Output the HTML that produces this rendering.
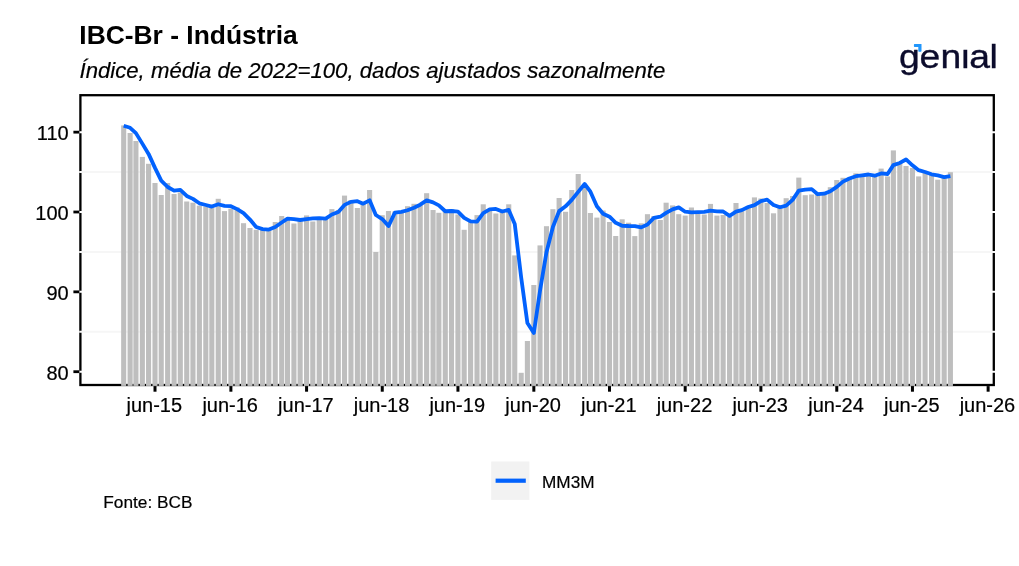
<!DOCTYPE html>
<html lang="pt-BR"><head><meta charset="utf-8"><title>IBC-Br - Indústria</title>
<style>html,body{margin:0;padding:0;background:#fff;overflow:hidden}body{width:1019px;height:566px;position:relative}</style></head>
<body>
<svg width="1019" height="566" viewBox="0 0 1019 566" style="position:absolute;left:0;top:0">
<rect x="0" y="0" width="1019" height="566" fill="#ffffff"/>
<rect x="80.4" y="95.2" width="913.4" height="289.8" fill="none" stroke="#000" stroke-width="2.3"/>
<line x1="79.2" x2="995" y1="371.70" y2="371.70" stroke="#ffffff" stroke-width="2"/>
<line x1="79.2" x2="995" y1="331.77" y2="331.77" stroke="#f6f6f6" stroke-width="2"/>
<line x1="79.2" x2="995" y1="291.85" y2="291.85" stroke="#ffffff" stroke-width="2"/>
<line x1="79.2" x2="995" y1="251.93" y2="251.93" stroke="#f6f6f6" stroke-width="2"/>
<line x1="79.2" x2="995" y1="212.00" y2="212.00" stroke="#ffffff" stroke-width="2"/>
<line x1="79.2" x2="995" y1="172.07" y2="172.07" stroke="#f6f6f6" stroke-width="2"/>
<line x1="79.2" x2="995" y1="132.15" y2="132.15" stroke="#ffffff" stroke-width="2"/>
<g fill="#bebebe">
<rect x="121.14" y="125.4" width="5.1" height="260.5"/>
<rect x="127.57" y="133.0" width="5.1" height="252.9"/>
<rect x="133.37" y="141.0" width="5.1" height="244.9"/>
<rect x="139.80" y="156.9" width="5.1" height="229.0"/>
<rect x="146.02" y="163.8" width="5.1" height="222.1"/>
<rect x="152.45" y="183.0" width="5.1" height="202.9"/>
<rect x="158.67" y="195.0" width="5.1" height="190.9"/>
<rect x="165.10" y="183.0" width="5.1" height="202.9"/>
<rect x="171.53" y="194.0" width="5.1" height="191.9"/>
<rect x="177.75" y="192.4" width="5.1" height="193.5"/>
<rect x="184.17" y="201.5" width="5.1" height="184.4"/>
<rect x="190.40" y="202.7" width="5.1" height="183.2"/>
<rect x="196.82" y="205.7" width="5.1" height="180.2"/>
<rect x="203.25" y="206.5" width="5.1" height="179.4"/>
<rect x="209.26" y="207.5" width="5.1" height="178.4"/>
<rect x="215.69" y="198.8" width="5.1" height="187.1"/>
<rect x="221.91" y="211.1" width="5.1" height="174.8"/>
<rect x="228.34" y="208.7" width="5.1" height="177.2"/>
<rect x="234.56" y="207.5" width="5.1" height="178.4"/>
<rect x="240.99" y="223.2" width="5.1" height="162.7"/>
<rect x="247.42" y="228.0" width="5.1" height="157.9"/>
<rect x="253.64" y="229.8" width="5.1" height="156.1"/>
<rect x="260.06" y="229.5" width="5.1" height="156.4"/>
<rect x="266.29" y="229.5" width="5.1" height="156.4"/>
<rect x="272.71" y="222.0" width="5.1" height="163.9"/>
<rect x="279.14" y="216.0" width="5.1" height="169.9"/>
<rect x="284.95" y="218.0" width="5.1" height="167.9"/>
<rect x="291.37" y="223.5" width="5.1" height="162.4"/>
<rect x="297.59" y="218.5" width="5.1" height="167.4"/>
<rect x="304.02" y="215.4" width="5.1" height="170.5"/>
<rect x="310.24" y="221.5" width="5.1" height="164.4"/>
<rect x="316.67" y="217.5" width="5.1" height="168.4"/>
<rect x="323.10" y="217.0" width="5.1" height="168.9"/>
<rect x="329.32" y="209.1" width="5.1" height="176.8"/>
<rect x="335.75" y="210.0" width="5.1" height="175.9"/>
<rect x="341.97" y="195.6" width="5.1" height="190.3"/>
<rect x="348.40" y="200.0" width="5.1" height="185.9"/>
<rect x="354.82" y="208.0" width="5.1" height="177.9"/>
<rect x="360.63" y="203.0" width="5.1" height="182.9"/>
<rect x="367.06" y="190.0" width="5.1" height="195.9"/>
<rect x="373.28" y="252.0" width="5.1" height="133.9"/>
<rect x="379.71" y="215.2" width="5.1" height="170.7"/>
<rect x="385.93" y="211.0" width="5.1" height="174.9"/>
<rect x="392.35" y="211.5" width="5.1" height="174.4"/>
<rect x="398.78" y="213.0" width="5.1" height="172.9"/>
<rect x="405.00" y="206.2" width="5.1" height="179.7"/>
<rect x="411.43" y="203.8" width="5.1" height="182.1"/>
<rect x="417.65" y="204.0" width="5.1" height="181.9"/>
<rect x="424.08" y="193.2" width="5.1" height="192.7"/>
<rect x="430.51" y="210.0" width="5.1" height="175.9"/>
<rect x="436.31" y="212.8" width="5.1" height="173.1"/>
<rect x="442.74" y="211.0" width="5.1" height="174.9"/>
<rect x="448.96" y="209.2" width="5.1" height="176.7"/>
<rect x="455.39" y="214.5" width="5.1" height="171.4"/>
<rect x="461.61" y="229.8" width="5.1" height="156.1"/>
<rect x="468.04" y="220.0" width="5.1" height="165.9"/>
<rect x="474.46" y="215.1" width="5.1" height="170.8"/>
<rect x="480.69" y="204.3" width="5.1" height="181.6"/>
<rect x="487.11" y="209.0" width="5.1" height="176.9"/>
<rect x="493.33" y="213.5" width="5.1" height="172.4"/>
<rect x="499.76" y="212.0" width="5.1" height="173.9"/>
<rect x="506.19" y="204.3" width="5.1" height="181.6"/>
<rect x="512.20" y="255.4" width="5.1" height="130.5"/>
<rect x="518.63" y="372.8" width="5.1" height="13.1"/>
<rect x="524.85" y="341.0" width="5.1" height="44.9"/>
<rect x="531.28" y="285.0" width="5.1" height="100.9"/>
<rect x="537.50" y="245.4" width="5.1" height="140.5"/>
<rect x="543.93" y="226.2" width="5.1" height="159.7"/>
<rect x="550.35" y="209.2" width="5.1" height="176.7"/>
<rect x="556.58" y="198.0" width="5.1" height="187.9"/>
<rect x="563.00" y="211.8" width="5.1" height="174.1"/>
<rect x="569.22" y="190.0" width="5.1" height="195.9"/>
<rect x="575.65" y="174.0" width="5.1" height="211.9"/>
<rect x="582.08" y="188.0" width="5.1" height="197.9"/>
<rect x="587.88" y="213.0" width="5.1" height="172.9"/>
<rect x="594.31" y="217.6" width="5.1" height="168.3"/>
<rect x="600.53" y="210.5" width="5.1" height="175.4"/>
<rect x="606.96" y="222.0" width="5.1" height="163.9"/>
<rect x="613.18" y="236.0" width="5.1" height="149.9"/>
<rect x="619.61" y="219.3" width="5.1" height="166.6"/>
<rect x="626.04" y="222.7" width="5.1" height="163.2"/>
<rect x="632.26" y="236.1" width="5.1" height="149.8"/>
<rect x="638.69" y="223.3" width="5.1" height="162.6"/>
<rect x="644.91" y="214.2" width="5.1" height="171.7"/>
<rect x="651.33" y="216.0" width="5.1" height="169.9"/>
<rect x="657.76" y="220.0" width="5.1" height="165.9"/>
<rect x="663.57" y="202.7" width="5.1" height="183.2"/>
<rect x="670.00" y="205.4" width="5.1" height="180.5"/>
<rect x="676.22" y="214.2" width="5.1" height="171.7"/>
<rect x="682.64" y="215.6" width="5.1" height="170.3"/>
<rect x="688.86" y="207.5" width="5.1" height="178.4"/>
<rect x="695.29" y="213.5" width="5.1" height="172.4"/>
<rect x="701.72" y="214.5" width="5.1" height="171.4"/>
<rect x="707.94" y="203.9" width="5.1" height="182.0"/>
<rect x="714.37" y="215.6" width="5.1" height="170.3"/>
<rect x="720.59" y="215.0" width="5.1" height="170.9"/>
<rect x="727.02" y="217.0" width="5.1" height="168.9"/>
<rect x="733.44" y="203.0" width="5.1" height="182.9"/>
<rect x="739.25" y="210.5" width="5.1" height="175.4"/>
<rect x="745.68" y="207.5" width="5.1" height="178.4"/>
<rect x="751.90" y="197.4" width="5.1" height="188.5"/>
<rect x="758.33" y="198.5" width="5.1" height="187.4"/>
<rect x="764.55" y="203.0" width="5.1" height="182.9"/>
<rect x="770.98" y="213.3" width="5.1" height="172.6"/>
<rect x="777.40" y="205.5" width="5.1" height="180.4"/>
<rect x="783.62" y="198.2" width="5.1" height="187.7"/>
<rect x="790.05" y="196.0" width="5.1" height="189.9"/>
<rect x="796.27" y="177.6" width="5.1" height="208.3"/>
<rect x="802.70" y="195.2" width="5.1" height="190.7"/>
<rect x="809.13" y="194.5" width="5.1" height="191.4"/>
<rect x="815.14" y="193.0" width="5.1" height="192.9"/>
<rect x="821.57" y="193.5" width="5.1" height="192.4"/>
<rect x="827.79" y="187.2" width="5.1" height="198.7"/>
<rect x="834.22" y="180.0" width="5.1" height="205.9"/>
<rect x="840.44" y="177.8" width="5.1" height="208.1"/>
<rect x="846.87" y="177.5" width="5.1" height="208.4"/>
<rect x="853.29" y="173.3" width="5.1" height="212.6"/>
<rect x="859.51" y="175.4" width="5.1" height="210.5"/>
<rect x="865.94" y="174.8" width="5.1" height="211.1"/>
<rect x="872.16" y="177.0" width="5.1" height="208.9"/>
<rect x="878.59" y="168.6" width="5.1" height="217.3"/>
<rect x="885.02" y="176.4" width="5.1" height="209.5"/>
<rect x="890.82" y="150.4" width="5.1" height="235.5"/>
<rect x="897.25" y="162.0" width="5.1" height="223.9"/>
<rect x="903.47" y="166.0" width="5.1" height="219.9"/>
<rect x="909.90" y="168.0" width="5.1" height="217.9"/>
<rect x="916.12" y="176.4" width="5.1" height="209.5"/>
<rect x="922.55" y="171.5" width="5.1" height="214.4"/>
<rect x="928.98" y="175.0" width="5.1" height="210.9"/>
<rect x="935.20" y="179.7" width="5.1" height="206.2"/>
<rect x="941.62" y="176.5" width="5.1" height="209.4"/>
<rect x="947.84" y="172.2" width="5.1" height="213.7"/>
</g>
<polyline points="123.69,125.80 130.12,127.80 135.92,133.13 142.35,143.63 148.57,153.90 155.00,167.90 161.22,180.60 167.65,187.00 174.08,190.67 180.30,189.80 186.72,195.97 192.95,198.87 199.37,203.30 205.80,204.97 211.81,206.57 218.24,204.27 224.46,205.80 230.89,206.20 237.11,209.10 243.54,213.13 249.97,219.57 256.19,227.00 262.61,229.10 268.84,229.60 275.26,227.00 281.69,222.50 287.50,218.67 293.92,219.17 300.14,220.00 306.57,219.13 312.79,218.47 319.22,218.13 325.65,218.67 331.87,214.53 338.30,212.03 344.52,204.90 350.95,201.87 357.37,201.20 363.18,203.67 369.61,200.33 375.83,215.00 382.26,219.07 388.48,226.07 394.90,212.57 401.33,211.83 407.55,210.23 413.98,207.67 420.20,204.67 426.63,200.33 433.06,202.40 438.86,205.33 445.29,211.27 451.51,211.00 457.94,211.57 464.16,217.83 470.59,221.43 477.01,221.63 483.24,213.13 489.66,209.47 495.88,208.93 502.31,211.50 508.74,209.93 514.75,223.90 521.18,277.50 527.40,323.07 533.83,332.93 540.05,290.47 546.48,252.20 552.90,226.93 559.13,211.13 565.55,206.33 571.77,199.93 578.20,191.93 584.63,184.00 590.43,191.67 596.86,206.20 603.08,213.70 609.51,216.70 615.73,222.83 622.16,225.77 628.59,226.00 634.81,226.03 641.24,227.37 647.46,224.53 653.88,217.83 660.31,216.73 666.12,212.90 672.55,209.37 678.77,207.43 685.19,211.73 691.41,212.43 697.84,212.20 704.27,211.83 710.49,210.63 716.92,211.33 723.14,211.50 729.57,215.87 735.99,211.67 741.80,210.17 748.23,207.00 754.45,205.13 760.88,201.13 767.10,199.63 773.53,204.93 779.95,207.27 786.17,205.67 792.60,199.90 798.82,190.60 805.25,189.60 811.68,189.10 817.69,194.23 824.12,193.67 830.34,191.23 836.77,186.90 842.99,181.67 849.42,178.43 855.84,176.20 862.06,175.40 868.49,174.50 874.71,175.73 881.14,173.47 887.57,174.00 893.37,165.13 899.80,162.93 906.02,159.47 912.45,165.33 918.67,170.13 925.10,171.97 931.53,174.30 937.75,175.40 944.17,177.07 950.39,176.13" fill="none" stroke="#0262fd" stroke-width="3.8" stroke-linejoin="round" stroke-linecap="butt"/>
<g font-family="'Liberation Sans', Arial, sans-serif" font-size="20" fill="#000" stroke-width="0.2">
<line x1="73.4" x2="79.3" y1="371.70" y2="371.70" stroke="#000" stroke-width="2.8"/>
<text x="68.7" y="379.50" text-anchor="end" stroke="#000">80</text>
<line x1="73.4" x2="79.3" y1="291.85" y2="291.85" stroke="#000" stroke-width="2.8"/>
<text x="68.7" y="299.65" text-anchor="end" stroke="#000">90</text>
<line x1="73.4" x2="79.3" y1="212.00" y2="212.00" stroke="#000" stroke-width="2.8"/>
<text x="68.7" y="219.80" text-anchor="end" stroke="#000">100</text>
<line x1="73.4" x2="79.3" y1="132.15" y2="132.15" stroke="#000" stroke-width="2.8"/>
<text x="68.7" y="139.95" text-anchor="end" stroke="#000">110</text>
<line x1="155.00" x2="155.00" y1="386.1" y2="391.7" stroke="#000" stroke-width="3.0"/>
<text x="154.30" y="411.9" text-anchor="middle" stroke="#000">jun-15</text>
<line x1="230.89" x2="230.89" y1="386.1" y2="391.7" stroke="#000" stroke-width="3.0"/>
<text x="230.19" y="411.9" text-anchor="middle" stroke="#000">jun-16</text>
<line x1="306.57" x2="306.57" y1="386.1" y2="391.7" stroke="#000" stroke-width="3.0"/>
<text x="305.87" y="411.9" text-anchor="middle" stroke="#000">jun-17</text>
<line x1="382.26" x2="382.26" y1="386.1" y2="391.7" stroke="#000" stroke-width="3.0"/>
<text x="381.56" y="411.9" text-anchor="middle" stroke="#000">jun-18</text>
<line x1="457.94" x2="457.94" y1="386.1" y2="391.7" stroke="#000" stroke-width="3.0"/>
<text x="457.24" y="411.9" text-anchor="middle" stroke="#000">jun-19</text>
<line x1="533.83" x2="533.83" y1="386.1" y2="391.7" stroke="#000" stroke-width="3.0"/>
<text x="533.13" y="411.9" text-anchor="middle" stroke="#000">jun-20</text>
<line x1="609.51" x2="609.51" y1="386.1" y2="391.7" stroke="#000" stroke-width="3.0"/>
<text x="608.81" y="411.9" text-anchor="middle" stroke="#000">jun-21</text>
<line x1="685.19" x2="685.19" y1="386.1" y2="391.7" stroke="#000" stroke-width="3.0"/>
<text x="684.49" y="411.9" text-anchor="middle" stroke="#000">jun-22</text>
<line x1="760.88" x2="760.88" y1="386.1" y2="391.7" stroke="#000" stroke-width="3.0"/>
<text x="760.18" y="411.9" text-anchor="middle" stroke="#000">jun-23</text>
<line x1="836.77" x2="836.77" y1="386.1" y2="391.7" stroke="#000" stroke-width="3.0"/>
<text x="836.07" y="411.9" text-anchor="middle" stroke="#000">jun-24</text>
<line x1="912.45" x2="912.45" y1="386.1" y2="391.7" stroke="#000" stroke-width="3.0"/>
<text x="911.75" y="411.9" text-anchor="middle" stroke="#000">jun-25</text>
<line x1="988.13" x2="988.13" y1="386.1" y2="391.7" stroke="#000" stroke-width="3.0"/>
<text x="987.43" y="411.9" text-anchor="middle" stroke="#000">jun-26</text>
</g>
<text x="79.3" y="43.9" font-family="'Liberation Sans', Arial, sans-serif" font-size="26.4" font-weight="bold" fill="#000">IBC-Br - Indústria</text>
<text x="79.5" y="78" font-family="'Liberation Sans', Arial, sans-serif" font-size="22.16" font-style="italic" fill="#000" stroke="#000" stroke-width="0.2">Índice, média de 2022=100, dados ajustados sazonalmente</text>
<rect x="491.2" y="461.5" width="38.2" height="38.4" fill="#f2f2f2"/>
<line x1="495.6" x2="525.8" y1="480.7" y2="480.7" stroke="#0262fd" stroke-width="4.2"/>
<text x="542.0" y="488.2" font-family="'Liberation Sans', Arial, sans-serif" font-size="17.2" fill="#000" stroke="#000" stroke-width="0.2">MM3M</text>
<text x="103.3" y="508.1" font-family="'Liberation Sans', Arial, sans-serif" font-size="17.25" fill="#000" stroke="#000" stroke-width="0.2">Fonte: BCB</text>
<text transform="scale(1.14,1)" x="788.60 806.67 825.09 843.16 850.18 868.07" y="68.2" font-family="'Liberation Sans', Arial, sans-serif" font-size="32.7" fill="#0c0c2c" stroke="#0c0c2c" stroke-width="0.35">genial</text>
<rect x="962.6" y="42.8" width="5.8" height="5.6" fill="#fff"/>
<path d="M914.6 44 H921.5 V51 Q921.5 51.7 920.8 51.7 H919 Q918.3 51.7 918.3 51 V46.9 H914.6 Q913.9 46.9 913.9 46.2 V44.7 Q913.9 44 914.6 44 Z" fill="#2196fb"/>
</svg>
</body></html>
